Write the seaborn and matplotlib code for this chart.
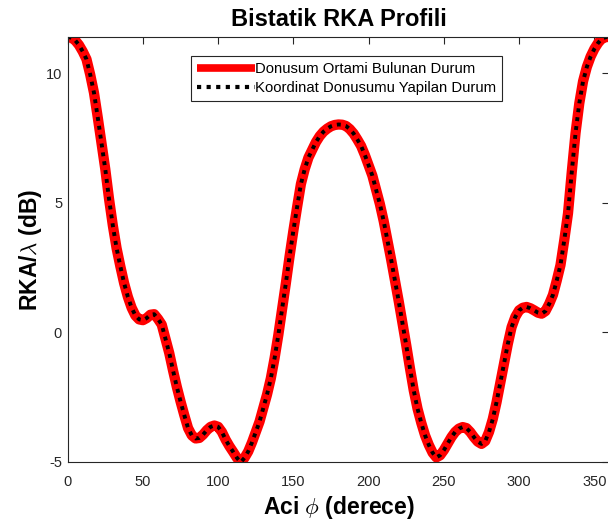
import matplotlib
matplotlib.use("Agg")
import numpy as np
import pandas as pd
import matplotlib.pyplot as plt
import seaborn as sns


# Values (angle in degrees, RCS in dB), every 2.5 deg
aci = [i * 2.5 for i in range(145)]

rka_ortam = [
    11.42, 11.38, 11.28, 11.10, 10.85, 10.55, 9.95, 9.25, 8.30, 7.30,      # 0 - 22.5
    6.30, 5.15, 4.13, 3.25, 2.55, 1.90, 1.37, 0.95, 0.65, 0.50,           # 25 - 47.5
    0.47, 0.55, 0.68, 0.70, 0.52, 0.30, -0.25, -0.80, -1.47, -2.10,       # 50 - 72.5
    -2.67, -3.20, -3.70, -3.98, -4.10, -4.08, -3.95, -3.78, -3.65, -3.60,  # 75 - 97.5
    -3.65, -3.85, -4.15, -4.40, -4.62, -4.85, -5.02, -4.85, -4.60, -4.25,  # 100 - 122.5
    -3.85, -3.45, -2.93, -2.40, -1.78, -1.00, -0.10, 0.90, 1.90, 2.95,     # 125 - 147.5
    3.93, 4.85, 5.73, 6.30, 6.75, 7.05, 7.35, 7.58, 7.75, 7.87,            # 150 - 172.5
    7.96, 8.01, 8.03, 8.02, 7.97, 7.85, 7.68, 7.45, 7.20, 6.85,            # 175 - 197.5
    6.45, 6.05, 5.50, 4.95, 4.30, 3.55, 2.80, 2.00, 1.20, 0.35,            # 200 - 222.5
    -0.50, -1.40, -2.25, -2.95, -3.50, -3.98, -4.35, -4.65, -4.83, -4.75,  # 225 - 247.5
    -4.55, -4.30, -4.05, -3.85, -3.72, -3.66, -3.70, -3.85, -4.05, -4.22,  # 250 - 272.5
    -4.31, -4.20, -3.85, -3.35, -2.70, -1.95, -1.20, -0.45, 0.20, 0.60,    # 275 - 297.5
    0.85, 0.95, 0.98, 0.93, 0.85, 0.76, 0.72, 0.82, 1.10, 1.45,            # 300 - 322.5
    2.00, 2.60, 3.56, 4.60, 6.20, 7.70, 8.85, 9.70, 10.25, 10.65,          # 325 - 347.5
    10.95, 11.18, 11.35, 11.40, 11.42,                                     # 350 - 360
]

# second case lies on top of the first one
rka_koordinat = list(rka_ortam)

etiket_1 = "Donusum Ortami Bulunan Durum"
etiket_2 = "Koordinat Donusumu Yapilan Durum"

df = pd.DataFrame({"aci": aci, "ortam": rka_ortam, "koordinat": rka_koordinat})


sns.set_theme(style="white")
plt.rcParams["font.family"] = ["Liberation Sans", "DejaVu Sans"]
plt.rcParams["mathtext.fontset"] = "cm"
plt.rcParams["axes.unicode_minus"] = False

fig = plt.figure(figsize=(6.08, 5.23), dpi=100)
ax = fig.add_axes([0.1113, 0.1161, 0.891, 0.8137])

sns.lineplot(data=df, x="aci", y="ortam", ax=ax, color="#ff0000",
             linewidth=7.4, label=etiket_1, solid_capstyle="butt",
             solid_joinstyle="round")
sns.lineplot(data=df, x="aci", y="koordinat", ax=ax, color="black",
             linewidth=2.8, label=etiket_2, dashes=False)
ax.lines[1].set_dashes((1.0, 1.3))

ax.set_xlim(0, 360)
ax.set_ylim(min(rka_ortam), max(rka_ortam))
ax.set_xticks([0, 50, 100, 150, 200, 250, 300, 350])
ax.set_yticks([-5, 0, 5, 10])

grey = "#262626"
for s in ax.spines.values():
    s.set_color(grey)
    s.set_linewidth(0.8)
ax.tick_params(direction="in", length=5, width=0.8, colors=grey,
               labelsize=10.5, top=True, right=True, labelcolor=grey)
ax.tick_params(axis="x", pad=9)
ax.tick_params(axis="y", pad=4)

ax.set_title("Bistatik RKA Profili", fontsize=17, fontweight="bold", pad=8,
             color="black")
ax.set_xlabel(r"Aci $\phi$ (derece)", fontsize=16.5, fontweight="bold",
              labelpad=4, color="black")
ax.set_ylabel(r"RKA/$\lambda$ (dB)", fontsize=16.5, fontweight="bold",
              labelpad=1, color="black")

leg = ax.legend(loc="upper left", bbox_to_anchor=(0.227, 0.955),
                borderaxespad=0, fontsize=10.7, handlelength=3.9,
                handletextpad=0.05, fancybox=False, framealpha=1,
                borderpad=0.4, labelspacing=0.35)
leg.get_frame().set_edgecolor(grey)
leg.get_frame().set_linewidth(0.8)
leg.get_lines()[0].set_linewidth(5.5)
leg.get_lines()[1].set_linewidth(3.0)
for t in leg.get_texts():
    t.set_color("black")

plt.savefig("out.png", dpi=100)
